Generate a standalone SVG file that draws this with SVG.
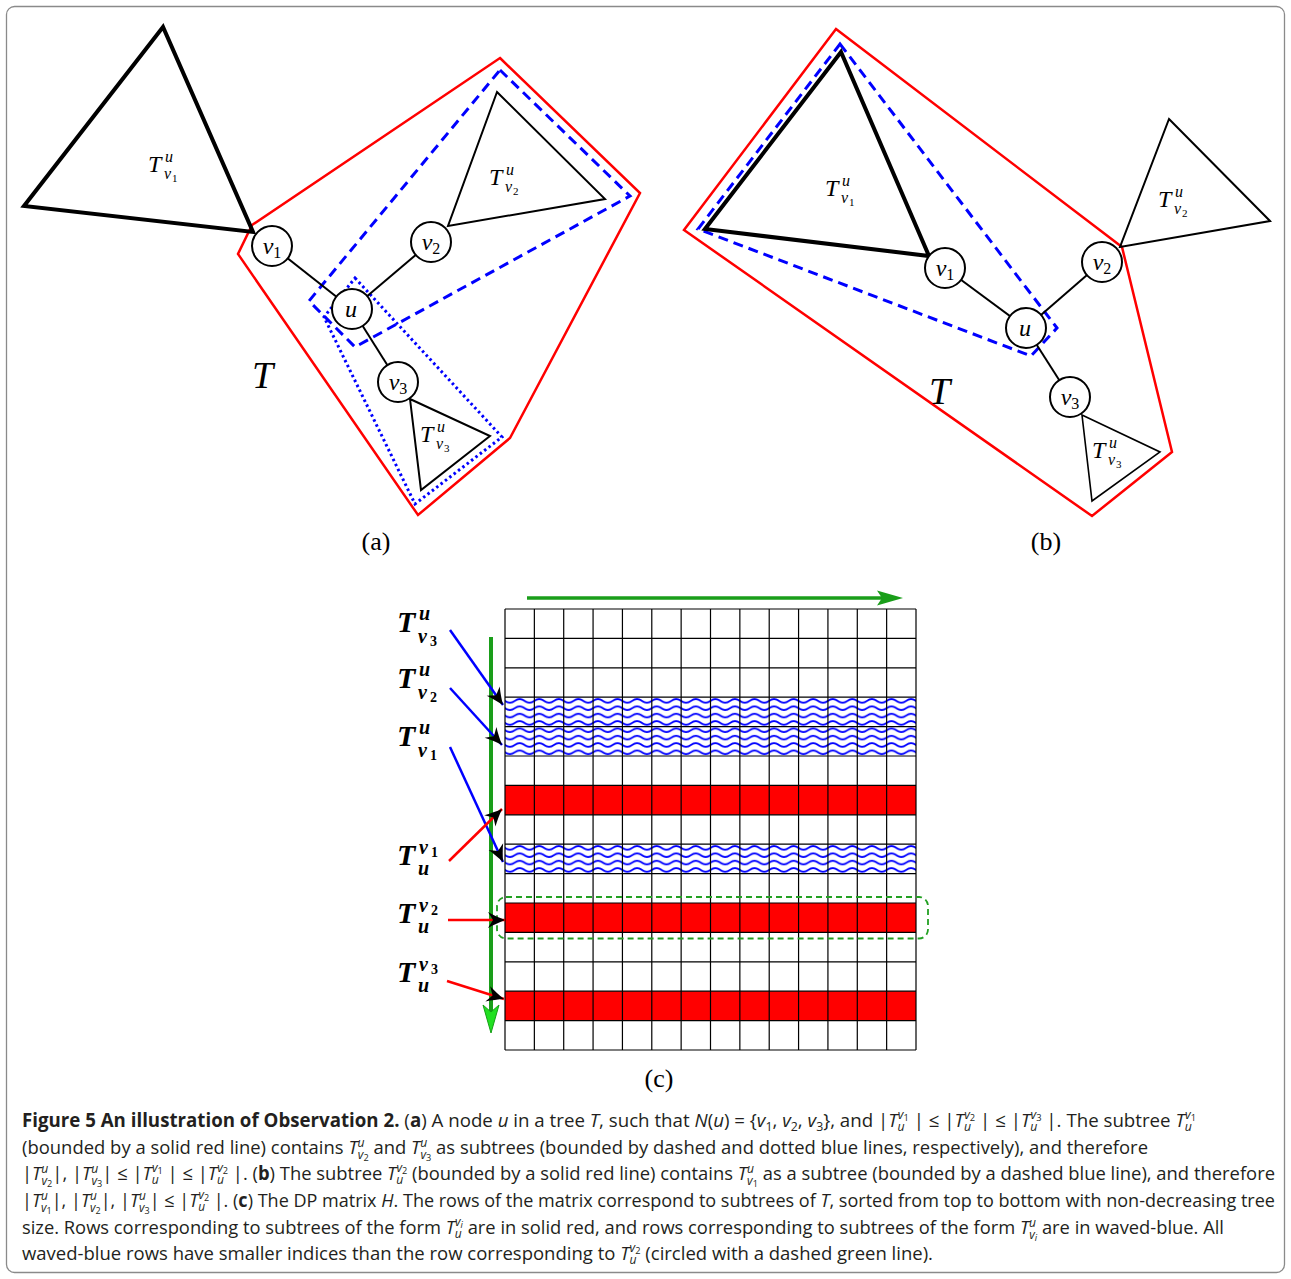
<svg xmlns="http://www.w3.org/2000/svg" width="1291" height="1279" viewBox="0 0 1291 1279">
<defs>
<style>
.frame{fill:#fff;stroke:#8a8a8a;stroke-width:1.3}
.node circle{fill:#fff;stroke:#000;stroke-width:2}
.lbl{font-family:"Liberation Serif","Times New Roman",serif;fill:#000}
.it{font-style:italic}
.edge{stroke:#000;stroke-width:2;fill:none}
.tri{fill:none;stroke:#000;stroke-width:2;stroke-linejoin:miter}
.thick{stroke-width:4}
.red{fill:none;stroke:#f00;stroke-width:2.5;stroke-linejoin:miter}
.bdash{fill:none;stroke:#00f;stroke-width:3;stroke-dasharray:10 6}
.bdot{fill:none;stroke:#00f;stroke-width:3;stroke-dasharray:2.5 3}
.grid{fill:none;stroke:#000;stroke-width:1.2}
.redrow{fill:#f00}
.waverow{fill:url(#wave)}
.barr{stroke:#00f;stroke-width:2.5;fill:none;marker-end:url(#ah)}
.rarr{stroke:#f00;stroke-width:2.5;fill:none;marker-end:url(#ah)}
.cap{font-family:"Open Sans","Noto Sans",sans-serif;font-size:19px;fill:#231f20}
.b{font-weight:700}
.i{font-style:italic}
.s{font-size:12.5px}
.x{font-size:9.5px}
</style>
<pattern id="wave" patternUnits="userSpaceOnUse" x="505" y="697.2" width="19.57" height="7.35">
<rect width="19.57" height="7.35" fill="#fff"/>
<path d="M-9.785 3.7 Q-4.89 0 0 3.7 T9.785 3.7 T19.57 3.7 T29.355 3.7" fill="none" stroke="#00f" stroke-width="1.8"/>
</pattern>
<marker id="ah" viewBox="-18 -9 20 18" refX="0" refY="0" markerWidth="20" markerHeight="18" markerUnits="userSpaceOnUse" orient="auto">
<path d="M0,0 C-5,-2 -12,-5 -17,-8 L-12,0 L-17,8 C-12,5 -5,2 0,0 Z" fill="#000"/>
</marker>
</defs>

<rect class="frame" x="6.5" y="6.5" width="1278" height="1266" rx="8"/>

<!-- ===== Part (a) ===== -->
<g id="a-regions">
<polygon class="red" points="500,58 640,193 510,438 418,515 238,254 252,225"/>
<polygon class="bdash" points="500,70 630,196 355,347 309,301"/>
<polygon class="bdot" points="355,278 502,437 415,504 324,317"/>
</g>
<g id="a-subtree-v1">
<polygon class="tri thick" points="163,27 24,206 253,232"/>
<text class="lbl"><tspan class="it" font-size="24" x="148" y="172">T</tspan><tspan class="it" font-size="16" x="165" y="162">u</tspan><tspan class="it" font-size="16" x="164" y="179">v</tspan><tspan font-size="11" x="172" y="182">1</tspan></text>
</g>
<g id="a-subtree-v2">
<polygon class="tri" points="497,92 605,199 448,226"/>
<text class="lbl"><tspan class="it" font-size="24" x="489" y="185">T</tspan><tspan class="it" font-size="16" x="506" y="175">u</tspan><tspan class="it" font-size="16" x="505" y="192">v</tspan><tspan font-size="11" x="513" y="195">2</tspan></text>
</g>
<g id="a-subtree-v3">
<polygon class="tri" points="410,399 490,436 421,490"/>
<text class="lbl"><tspan class="it" font-size="24" x="420" y="442">T</tspan><tspan class="it" font-size="16" x="437" y="432">u</tspan><tspan class="it" font-size="16" x="436" y="449">v</tspan><tspan font-size="11" x="444" y="452">3</tspan></text>
</g>
<g id="a-connectors">
<line class="edge" x1="272" y1="246" x2="352" y2="309"/>
<line class="edge" x1="431" y1="242" x2="352" y2="309"/>
<line class="edge" x1="352" y1="309" x2="398" y2="382"/>
</g>
<g id="a-node-v1" class="node"><circle cx="272" cy="246" r="20"/><text class="lbl" x="272" y="254" text-anchor="middle"><tspan class="it" font-size="24">v</tspan><tspan font-size="16" dy="4">1</tspan></text></g>
<g id="a-node-v2" class="node"><circle cx="431" cy="242" r="20"/><text class="lbl" x="431" y="250" text-anchor="middle"><tspan class="it" font-size="24">v</tspan><tspan font-size="16" dy="4">2</tspan></text></g>
<g id="a-node-u" class="node"><circle cx="352" cy="309" r="20"/><text class="lbl it" x="351" y="317" text-anchor="middle" font-size="24">u</text></g>
<g id="a-node-v3" class="node"><circle cx="398" cy="382" r="20"/><text class="lbl" x="398" y="390" text-anchor="middle"><tspan class="it" font-size="24">v</tspan><tspan font-size="16" dy="4">3</tspan></text></g>
<text class="lbl it" x="252" y="388" font-size="38">T</text>
<text class="lbl" x="376" y="550" font-size="26" text-anchor="middle">(a)</text>

<!-- ===== Part (b) ===== -->
<g id="b-regions">
<polygon class="red" points="836,29 1122,247 1172,452 1092,516 684,230"/>
<polygon class="bdash" points="840,44 1057,328 1031,356 698,229"/>
</g>
<g id="b-subtree-v1">
<polygon class="tri thick" points="841,52 705,229 929,256"/>
<text class="lbl"><tspan class="it" font-size="24" x="825" y="196">T</tspan><tspan class="it" font-size="16" x="842" y="186">u</tspan><tspan class="it" font-size="16" x="841" y="203">v</tspan><tspan font-size="11" x="849" y="206">1</tspan></text>
</g>
<g id="b-subtree-v2">
<polygon class="tri" points="1169,119 1270,221 1120,247"/>
<text class="lbl"><tspan class="it" font-size="24" x="1158" y="207">T</tspan><tspan class="it" font-size="16" x="1175" y="197">u</tspan><tspan class="it" font-size="16" x="1174" y="214">v</tspan><tspan font-size="11" x="1182" y="217">2</tspan></text>
</g>
<g id="b-subtree-v3">
<polygon class="tri" points="1082,415 1160,452 1092,501" style="stroke-width:1.6"/>
<text class="lbl"><tspan class="it" font-size="24" x="1092" y="458">T</tspan><tspan class="it" font-size="16" x="1109" y="448">u</tspan><tspan class="it" font-size="16" x="1108" y="465">v</tspan><tspan font-size="11" x="1116" y="468">3</tspan></text>
</g>
<g id="b-connectors">
<line class="edge" x1="945" y1="268" x2="1026" y2="328"/>
<line class="edge" x1="1102" y1="262" x2="1026" y2="328"/>
<line class="edge" x1="1026" y1="328" x2="1070" y2="397"/>
</g>
<g id="b-node-v1" class="node"><circle cx="945" cy="268" r="20"/><text class="lbl" x="945" y="276" text-anchor="middle"><tspan class="it" font-size="24">v</tspan><tspan font-size="16" dy="4">1</tspan></text></g>
<g id="b-node-v2" class="node"><circle cx="1102" cy="262" r="20"/><text class="lbl" x="1102" y="270" text-anchor="middle"><tspan class="it" font-size="24">v</tspan><tspan font-size="16" dy="4">2</tspan></text></g>
<g id="b-node-u" class="node"><circle cx="1026" cy="328" r="20"/><text class="lbl it" x="1025" y="336" text-anchor="middle" font-size="24">u</text></g>
<g id="b-node-v3" class="node"><circle cx="1070" cy="397" r="20"/><text class="lbl" x="1070" y="405" text-anchor="middle"><tspan class="it" font-size="24">v</tspan><tspan font-size="16" dy="4">3</tspan></text></g>
<text class="lbl it" x="929" y="404" font-size="38">T</text>
<text class="lbl" x="1046" y="550" font-size="26" text-anchor="middle">(b)</text>

<!-- ===== Part (c) ===== -->
<g id="matrix">
<rect class="waverow" x="505" y="697.2" width="411" height="58.8"/>
<rect class="waverow" x="505" y="844.2" width="411" height="29.4"/>
<rect class="redrow" x="505" y="785.4" width="411" height="29.4"/>
<rect class="redrow" x="505" y="903" width="411" height="29.4"/>
<rect class="redrow" x="505" y="991.2" width="411" height="29.4"/>
<path class="grid" d="M505 609V1050M534.36 609V1050M563.71 609V1050M593.07 609V1050M622.43 609V1050M651.79 609V1050M681.14 609V1050M710.5 609V1050M739.86 609V1050M769.21 609V1050M798.57 609V1050M827.93 609V1050M857.29 609V1050M886.64 609V1050M916 609V1050M505 609H916M505 638.4H916M505 667.8H916M505 697.2H916M505 726.6H916M505 756H916M505 785.4H916M505 814.8H916M505 844.2H916M505 873.6H916M505 903H916M505 932.4H916M505 961.8H916M505 991.2H916M505 1020.6H916M505 1050H916"/>
</g>
<rect id="highlight" x="497" y="897" width="431" height="41.5" rx="9" fill="none" stroke="#22a022" stroke-width="1.8" stroke-dasharray="6 4"/>
<g id="axes">
<line x1="527" y1="598" x2="884" y2="598" stroke="#1a9e1a" stroke-width="3.5"/>
<polygon points="877,590.5 903,598 877,605.5 882,598" fill="#1a9e1a"/>
<line x1="491" y1="637" x2="491" y2="1012" stroke="#1a9e1a" stroke-width="4"/>
<polygon points="483,1005 491,1033 499,1005 491,1012" fill="#22e022" stroke="#14a014" stroke-width="1"/>
</g>
<g id="c-labels">
<text class="lbl" font-weight="bold"><tspan class="it" font-size="30" x="397" y="632">T</tspan><tspan class="it" font-size="20" x="419" y="620">u</tspan><tspan class="it" font-size="20" x="418" y="643">v</tspan><tspan font-size="14" x="430" y="646">3</tspan></text>
<text class="lbl" font-weight="bold"><tspan class="it" font-size="30" x="397" y="688">T</tspan><tspan class="it" font-size="20" x="419" y="676">u</tspan><tspan class="it" font-size="20" x="418" y="699">v</tspan><tspan font-size="14" x="430" y="702">2</tspan></text>
<text class="lbl" font-weight="bold"><tspan class="it" font-size="30" x="397" y="746">T</tspan><tspan class="it" font-size="20" x="419" y="734">u</tspan><tspan class="it" font-size="20" x="418" y="757">v</tspan><tspan font-size="14" x="430" y="760">1</tspan></text>
<text class="lbl" font-weight="bold"><tspan class="it" font-size="30" x="397" y="865">T</tspan><tspan class="it" font-size="20" x="419" y="854">v</tspan><tspan font-size="14" x="431" y="857">1</tspan><tspan class="it" font-size="20" x="418" y="875">u</tspan></text>
<text class="lbl" font-weight="bold"><tspan class="it" font-size="30" x="397" y="923">T</tspan><tspan class="it" font-size="20" x="419" y="912">v</tspan><tspan font-size="14" x="431" y="915">2</tspan><tspan class="it" font-size="20" x="418" y="933">u</tspan></text>
<text class="lbl" font-weight="bold"><tspan class="it" font-size="30" x="397" y="982">T</tspan><tspan class="it" font-size="20" x="419" y="971">v</tspan><tspan font-size="14" x="431" y="974">3</tspan><tspan class="it" font-size="20" x="418" y="992">u</tspan></text>
</g>
<g id="c-connectors">
<line class="barr" x1="450" y1="630" x2="503" y2="705"/>
<line class="barr" x1="450" y1="688" x2="502" y2="745"/>
<line class="barr" x1="450" y1="747" x2="503" y2="862"/>
<line class="rarr" x1="449" y1="861" x2="502" y2="809"/>
<line class="rarr" x1="448" y1="920" x2="505" y2="920"/>
<line class="rarr" x1="447" y1="981" x2="504" y2="999"/>
</g>
<text class="lbl" x="659" y="1087" font-size="26" text-anchor="middle">(c)</text>

<!-- ===== Caption ===== -->
<g id="caption">
<text class="cap" x="22" y="1127" textLength="1174" lengthAdjust="spacingAndGlyphs"><tspan class="b">Figure 5 An illustration of Observation 2.</tspan> (<tspan class="b">a</tspan>) A node <tspan class="i">u</tspan> in a tree <tspan class="i">T</tspan>, such that <tspan class="i">N</tspan>(<tspan class="i">u</tspan>) = {<tspan class="i">v</tspan><tspan class="s" dy="4">1</tspan><tspan dy="-4">, </tspan><tspan class="i">v</tspan><tspan class="s" dy="4">2</tspan><tspan dy="-4">, </tspan><tspan class="i">v</tspan><tspan class="s" dy="4">3</tspan><tspan dy="-4">}, and |</tspan><tspan class="i">T</tspan><tspan class="i s" dy="4">u</tspan><tspan class="i s" dx="-7" dy="-12">v</tspan><tspan class="x" dy="2">1</tspan><tspan dy="6"> | ≤ |</tspan><tspan class="i">T</tspan><tspan class="i s" dy="4">u</tspan><tspan class="i s" dx="-7" dy="-12">v</tspan><tspan class="x" dy="2">2</tspan><tspan dy="6"> | ≤ |</tspan><tspan class="i">T</tspan><tspan class="i s" dy="4">u</tspan><tspan class="i s" dx="-7" dy="-12">v</tspan><tspan class="x" dy="2">3</tspan><tspan dy="6"> |. The subtree </tspan><tspan class="i">T</tspan><tspan class="i s" dy="4">u</tspan><tspan class="i s" dx="-7" dy="-12">v</tspan><tspan class="x" dy="2">1</tspan></text>
<text class="cap" x="22" y="1154" textLength="1126" lengthAdjust="spacingAndGlyphs">(bounded by a solid red line) contains <tspan class="i">T</tspan><tspan class="i s" dy="-7">u</tspan><tspan class="i s" dx="-7" dy="12">v</tspan><tspan class="x" dy="2">2</tspan><tspan dy="-7"> and </tspan><tspan class="i">T</tspan><tspan class="i s" dy="-7">u</tspan><tspan class="i s" dx="-7" dy="12">v</tspan><tspan class="x" dy="2">3</tspan><tspan dy="-7"> as subtrees (bounded by dashed and dotted blue lines, respectively), and therefore</tspan></text>
<text class="cap" x="22" y="1180" textLength="1253" lengthAdjust="spacingAndGlyphs">|<tspan class="i">T</tspan><tspan class="i s" dy="-7">u</tspan><tspan class="i s" dx="-7" dy="12">v</tspan><tspan class="x" dy="2">2</tspan><tspan dy="-7">|, |</tspan><tspan class="i">T</tspan><tspan class="i s" dy="-7">u</tspan><tspan class="i s" dx="-7" dy="12">v</tspan><tspan class="x" dy="2">3</tspan><tspan dy="-7">| ≤ |</tspan><tspan class="i">T</tspan><tspan class="i s" dy="4">u</tspan><tspan class="i s" dx="-7" dy="-12">v</tspan><tspan class="x" dy="2">1</tspan><tspan dy="6"> | ≤ |</tspan><tspan class="i">T</tspan><tspan class="i s" dy="4">u</tspan><tspan class="i s" dx="-7" dy="-12">v</tspan><tspan class="x" dy="2">2</tspan><tspan dy="6"> |. (</tspan><tspan class="b">b</tspan>) The subtree <tspan class="i">T</tspan><tspan class="i s" dy="4">u</tspan><tspan class="i s" dx="-7" dy="-12">v</tspan><tspan class="x" dy="2">2</tspan><tspan dy="6"> (bounded by a solid red line) contains </tspan><tspan class="i">T</tspan><tspan class="i s" dy="-7">u</tspan><tspan class="i s" dx="-7" dy="12">v</tspan><tspan class="x" dy="2">1</tspan><tspan dy="-7"> as a subtree (bounded by a dashed blue line), and therefore</tspan></text>
<text class="cap" x="22" y="1207" textLength="1253" lengthAdjust="spacingAndGlyphs">|<tspan class="i">T</tspan><tspan class="i s" dy="-7">u</tspan><tspan class="i s" dx="-7" dy="12">v</tspan><tspan class="x" dy="2">1</tspan><tspan dy="-7">|, |</tspan><tspan class="i">T</tspan><tspan class="i s" dy="-7">u</tspan><tspan class="i s" dx="-7" dy="12">v</tspan><tspan class="x" dy="2">2</tspan><tspan dy="-7">|, |</tspan><tspan class="i">T</tspan><tspan class="i s" dy="-7">u</tspan><tspan class="i s" dx="-7" dy="12">v</tspan><tspan class="x" dy="2">3</tspan><tspan dy="-7">| ≤ |</tspan><tspan class="i">T</tspan><tspan class="i s" dy="4">u</tspan><tspan class="i s" dx="-7" dy="-12">v</tspan><tspan class="x" dy="2">2</tspan><tspan dy="6"> |. (</tspan><tspan class="b">c</tspan>) The DP matrix <tspan class="i">H</tspan>. The rows of the matrix correspond to subtrees of <tspan class="i">T</tspan>, sorted from top to bottom with non-decreasing tree</text>
<text class="cap" x="22" y="1234" textLength="1202" lengthAdjust="spacingAndGlyphs">size. Rows corresponding to subtrees of the form <tspan class="i">T</tspan><tspan class="i s" dy="4">u</tspan><tspan class="i s" dx="-7" dy="-12">v</tspan><tspan class="x i" dy="2">i</tspan><tspan dy="6"> are in solid red, and rows corresponding to subtrees of the form </tspan><tspan class="i">T</tspan><tspan class="i s" dy="-7">u</tspan><tspan class="i s" dx="-7" dy="12">v</tspan><tspan class="x i" dy="2">i</tspan><tspan dy="-7"> are in waved-blue. All</tspan></text>
<text class="cap" x="22" y="1260" textLength="911" lengthAdjust="spacingAndGlyphs">waved-blue rows have smaller indices than the row corresponding to <tspan class="i">T</tspan><tspan class="i s" dy="4">u</tspan><tspan class="i s" dx="-7" dy="-12">v</tspan><tspan class="x" dy="2">2</tspan><tspan dy="6"> (circled with a dashed green line).</tspan></text>
</g>
</svg>
